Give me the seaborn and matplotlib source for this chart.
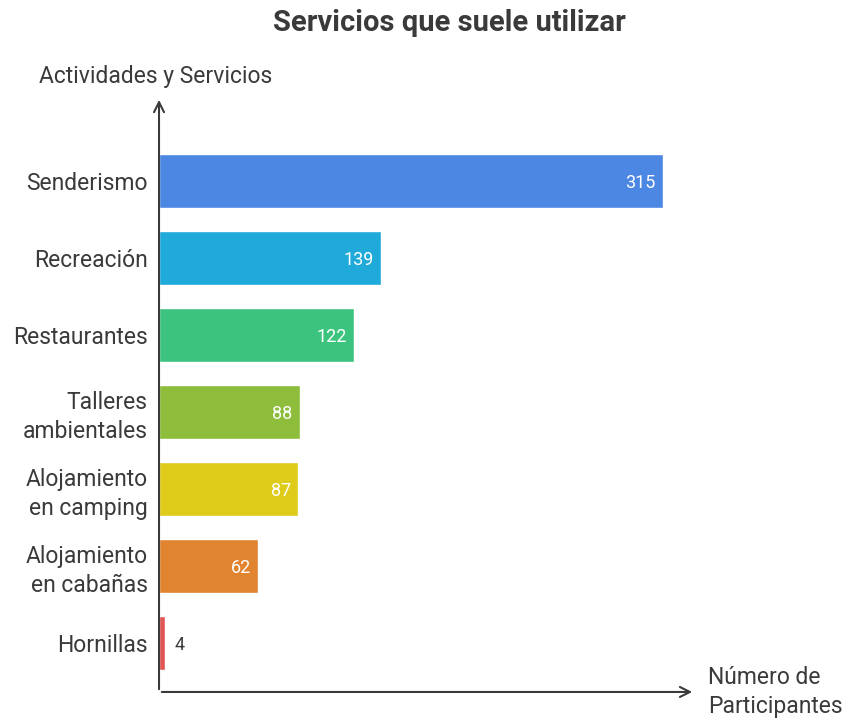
import matplotlib
matplotlib.use("Agg")
import matplotlib.pyplot as plt
import seaborn as sns
import pandas as pd

categories = ["Senderismo", "Recreación", "Restaurantes", "Talleres\nambientales",
              "Alojamiento\nen camping", "Alojamiento\nen cabañas", "Hornillas"]
values = [315, 139, 122, 88, 87, 62, 4]
colors = ["#4C88E3", "#1FAAD9", "#3CC47F", "#8DBD3A", "#DFCB1A", "#E08430", "#E05555"]

sns.set_theme(style="white")
plt.rcParams['font.family'] = ['Roboto', 'DejaVu Sans']
text_color = "#3a3a3a"

df = pd.DataFrame({"cat": categories, "val": values})
fig = plt.figure(figsize=(8.49, 7.19), dpi=100)
ax = fig.add_axes([0.1873, 0.0376, 0.8186 - 0.1873, 0.865 - 0.0376])
sns.barplot(data=df, x="val", y="cat", hue="cat", palette=colors, legend=False,
            width=0.69, ax=ax, saturation=1)
ax.set_xlim(0, 335)
ax.set_ylim(6.636, -1.09)
for s in ax.spines.values():
    s.set_visible(False)
ax.set_xticks([])
ax.tick_params(axis="y", length=0, pad=8, labelsize=16.5, labelcolor=text_color)
ax.set_xlabel("")
ax.set_ylabel("")
for lbl in ax.get_yticklabels():
    lbl.set_horizontalalignment("right")
    lbl.set_linespacing(1.3)

# value labels
for i, v in enumerate(values):
    if v > 30:
        ax.text(v - 4.5, i, str(v), ha="right", va="center_baseline", color="white", fontsize=13)
    else:
        ax.text(v + 6, i, str(v), ha="left", va="center_baseline", color=text_color, fontsize=13)

# axes arrows
ax.annotate("", xy=(0, 1.0), xytext=(0, 0), xycoords="axes fraction",
            arrowprops=dict(arrowstyle="->", color=text_color, lw=1.5, mutation_scale=18))
ax.annotate("", xy=(1.0, 0), xytext=(0, 0), xycoords="axes fraction",
            arrowprops=dict(arrowstyle="->", color=text_color, lw=1.5, mutation_scale=18))

fig.text(0.529, 0.968, "Servicios que suele utilizar", ha="center", va="center",
         fontsize=21, fontweight="bold", color=text_color)
fig.text(0.046, 0.893, "Actividades y Servicios", ha="left", va="center",
         fontsize=16.5, color=text_color)
fig.text(0.834, 0.0376, "Número de\nParticipantes", ha="left", va="center",
         fontsize=16.5, color=text_color, linespacing=1.3)

fig.savefig("out.png", dpi=100)
